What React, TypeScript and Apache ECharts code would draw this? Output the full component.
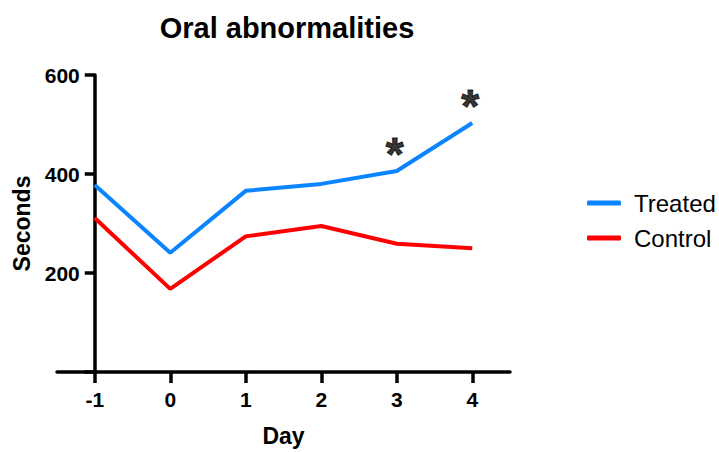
import React, { useEffect, useRef } from "react";
import * as echarts from "echarts";

const days = ["-1", "0", "1", "2", "3", "4"];
const treated = [378, 241, 366, 380, 406, 503];
const control = [311, 168, 274, 295, 259, 250];
const sigDays = ["3", "4"];
const yTicks = [0, 200, 400, 600];

export default function App() {
  const ref = useRef<HTMLDivElement>(null);
  useEffect(() => {
    document.body.style.margin = "0";
    if (!ref.current) return;
    const chart = echarts.init(ref.current, null, { renderer: "svg" });
    const font = "'Liberation Sans', Arial, Helvetica, sans-serif";
    const sigData = sigDays.map((d) => [d, treated[days.indexOf(d)]]);
    chart.setOption({
      animation: false,
      textStyle: { fontFamily: font },
      title: {
        text: "Oral abnormalities",
        left: 282,
        textAlign: "center",
        top: 8,
        textStyle: { fontSize: 29, fontWeight: "bold", color: "#000", fontFamily: font },
      },
      legend: {
        data: ["Treated", "Control"],
        orient: "vertical",
        left: 582,
        top: 186,
        itemWidth: 34,
        itemHeight: 5,
        itemGap: 11,
        icon: "roundRect",
        textStyle: { fontSize: 24, color: "#000", fontFamily: font, padding: [0, 0, 0, 8] },
      },
      grid: { left: 57, right: 209, top: 75, bottom: 74 },
      xAxis: {
        type: "category",
        data: days,
        boundaryGap: true,
        name: "Day",
        nameLocation: "middle",
        nameGap: 52,
        nameTextStyle: { fontSize: 23, fontWeight: "bold", color: "#000", fontFamily: font },
        axisLine: { show: true, lineStyle: { color: "#000", width: 3.5 } },
        axisTick: {
          show: true,
          interval: 0,
          alignWithLabel: true,
          length: 11,
          lineStyle: { color: "#000", width: 3.5 },
        },
        axisLabel: { fontSize: 21, fontWeight: "bold", color: "#000", margin: 17, fontFamily: font },
      },
      yAxis: {
        type: "value",
        min: yTicks[0],
        max: yTicks[yTicks.length - 1],
        interval: 200,
        offset: -37.75,
        name: "Seconds",
        nameLocation: "middle",
        nameGap: 57,
        nameTextStyle: { fontSize: 23, fontWeight: "bold", color: "#000", fontFamily: font },
        splitLine: { show: false },
        axisLine: { show: true, lineStyle: { color: "#000", width: 3.5 } },
        axisTick: { show: true, length: 10, lineStyle: { color: "#000", width: 3.5 } },
        axisLabel: {
          fontSize: 21,
          fontWeight: "bold",
          color: "#000",
          margin: 15,
          fontFamily: font,
          formatter: (v: number) => (v === 0 ? "" : String(v)),
        },
      },
      series: [
        {
          name: "Treated",
          type: "line",
          data: treated,
          showSymbol: false,
          symbol: "none",
          lineStyle: { color: "#0A84FF", width: 4 },
          itemStyle: { color: "#0A84FF" },
        },
        {
          name: "Control",
          type: "line",
          data: control,
          showSymbol: false,
          symbol: "none",
          lineStyle: { color: "#FF0000", width: 4 },
          itemStyle: { color: "#FF0000" },
        },
        {
          name: "sig",
          type: "scatter",
          data: sigData,
          symbolSize: 1,
          itemStyle: { color: "rgba(0,0,0,0)" },
          silent: true,
          label: {
            show: true,
            position: "top",
            distance: -6,
            offset: [-2, 0],
            formatter: "*",
            fontSize: 46,
            fontWeight: "bold",
            color: "#000",
            textBorderColor: "#000",
            textBorderWidth: 1,
            fontFamily: font,
          },
        },
      ],
    });
    return () => chart.dispose();
  }, []);
  return <div ref={ref} style={{ width: 719, height: 452 }} />;
}
